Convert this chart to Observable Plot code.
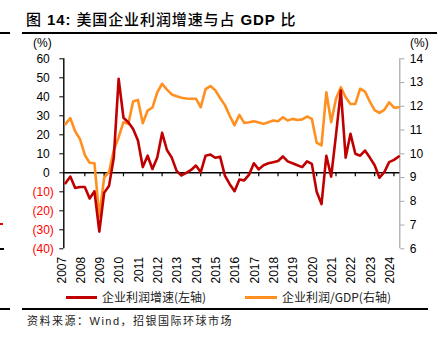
<!DOCTYPE html>
<html>
<head>
<meta charset="utf-8">
<script src="https://cdn.jsdelivr.net/npm/d3@7"></script>
<script src="https://cdn.jsdelivr.net/npm/@observablehq/plot@0.6"></script>
<style>
  html, body { margin: 0; padding: 0; background: #fff; }
  #wrap { position: relative; width: 437px; height: 339px; overflow: hidden; font-family: "Liberation Sans", Arial, "Noto Sans CJK SC", sans-serif; color: #000; }
  #wrap svg { position: absolute; left: 0; top: 0; }
  .abs { position: absolute; white-space: nowrap; }
  .rule { position: absolute; background: #000; }
  .cjk { font-family: "Noto Sans CJK SC", sans-serif; font-weight: 500; }
</style>
</head>
<body>
<div id="wrap">
  <div class="abs" style="left:26px; top:10px; font-size:15px; line-height:17px; font-weight:bold; letter-spacing:0.9px; font-family:'Liberation Sans','Noto Sans CJK SC',sans-serif;"><span class="cjk">图</span> 14: <span class="cjk">美国企业利润增速与占</span> GDP <span class="cjk">比</span></div>
  <div class="rule" style="left:0; top:32px; width:10px; height:2px;"></div>
  <div class="rule" style="left:22px; top:32px; width:415px; height:2px;"></div>
  <div class="abs" style="left:33px; top:36px; font-size:12px; line-height:14px;">(%)</div>
  <div class="abs" style="left:410px; top:36px; font-size:12px; line-height:14px;">(%)</div>
  <div class="rule" style="left:0; top:223px; width:3px; height:2px; background:#e00000;"></div>
  <div class="rule" style="left:0; top:248px; width:4px; height:1.5px;"></div>
  <div class="rule" style="left:66px; top:295.5px; width:31px; height:3px; background:#C00000;"></div>
  <div class="abs" style="left:102px; top:289px; font-size:12px; line-height:15px; color:#222; font-family:'Noto Sans CJK SC',sans-serif;">企业利润增速(左轴)</div>
  <div class="rule" style="left:245px; top:295.5px; width:32px; height:3px; background:#FF9020;"></div>
  <div class="abs" style="left:282px; top:289px; font-size:12px; line-height:15px; color:#222; font-family:'Noto Sans CJK SC',sans-serif;">企业利润/GDP(右轴)</div>
  <div class="rule" style="left:0; top:308px; width:10px; height:2px;"></div>
  <div class="rule" style="left:22px; top:308px; width:406px; height:2px;"></div>
  <div class="abs" style="left:27px; top:313px; font-size:11px; line-height:14px; letter-spacing:1.5px; color:#222; font-family:'Noto Sans CJK SC',sans-serif;">资料来源：<span style="font-family:'Liberation Sans',sans-serif;">Wind</span>，招银国际环球市场</div>
</div>
<script>
// Quarterly data, 2007Q1 – 2024Q2
const startYear = 2007;
const profitGrowth = [
  -5.5, -2, -8, -7.5, -7.5, -13.5, -9.7, -31, -10.5, -7,
  8, 49.5, 29, 26.6, 23, 17, 3, 9, 2, 8,
  21, 12, 8, 1, -1.4, 0, 1.5, 3.8, 0.3, 9,
  9.6, 7.9, 8.5, -1.5, -6, -9.7, -3.5, -4, -1, 5,
  1.8, 4, 5, 5.6, 6.2, 8.6, 6, 5, 4, 3,
  6, 4.7, -10, -16.5, 9, -2, 20, 43.3, 8, 20.5,
  10, 9, 11.7, 8, 4, -2.6, 0.3, 5.6, 6.8, 8.6
];
const profitToGDP = [
  11.25, 11.5, 10.95, 10.62, 9.95, 9.62, 9.6, 7.35, 9.0, 9.23,
  10.15, 10.7, 11.33, 11.26, 12.2, 12.27, 11.29, 11.82, 11.95, 12.59,
  12.95, 12.7, 12.5, 12.42, 12.36, 12.33, 12.32, 12.32, 11.96, 12.72,
  12.85, 12.68, 12.35, 12.05, 11.6, 11.2, 11.64, 11.3, 11.33, 11.37,
  11.32, 11.26, 11.33, 11.4, 11.37, 11.54, 11.4, 11.47, 11.42, 11.45,
  11.57, 11.47, 10.47, 10.35, 12.59, 11.33, 12.32, 12.8, 12.38, 12.1,
  12.1, 12.74, 12.62, 12.2, 11.84, 11.72, 11.85, 12.17, 11.94, 11.96
];
const yearLabels = d3.range(2007, 2025);
const leftTicks = [-40, -30, -20, -10, 0, 10, 20, 30, 40, 50, 60];
const rightTicks = [6, 7, 8, 9, 10, 11, 12, 13, 14];

// right axis [6,14] mapped onto left axis [-40,60]
const toLeft = r => -40 + (r - 6) * 12.5;
const fromLeft = v => Math.round(6 + (v + 40) / 12.5);

const data = profitGrowth.map((g, i) => ({
  t: startYear + i / 4,
  g,
  r: toLeft(profitToGDP[i])
}));

const xDomain = [2006.912, 2024.302];

const chart = Plot.plot({
  width: 437,
  height: 339,
  marginTop: 58.3,
  marginBottom: 90.7,
  marginLeft: 63.3,
  marginRight: 37.7,
  style: { fontFamily: "'Liberation Sans', Arial, sans-serif", fontSize: "12px", background: "transparent", overflow: "visible" },
  x: { domain: xDomain, axis: null },
  y: { domain: [-40, 60], axis: null },
  marks: [
    Plot.ruleX([xDomain[1]], { stroke: "#a6a6a6", strokeWidth: 1.2 }),
    Plot.axisY({ anchor: "right", ticks: rightTicks.map(toLeft), tickFormat: fromLeft, tickSize: 4, tickPadding: 6, stroke: "#a6a6a6", fill: "#000", label: null, fontSize: 12 }),
    Plot.axisY({ anchor: "left", ticks: leftTicks, tickFormat: () => "", tickSize: 4, stroke: "#000", label: null }),
    Plot.text(leftTicks.filter(d => d >= 0), { y: d => d, text: d => String(d), frameAnchor: "left", textAnchor: "end", dx: -14, fill: "#000", fontSize: 12 }),
    Plot.text(leftTicks.filter(d => d < 0), { y: d => d, text: d => `(${-d})`, frameAnchor: "left", textAnchor: "end", dx: -10, fill: "#ff0000", fontSize: 12 }),
    Plot.ruleY([0], { stroke: "#000", strokeWidth: 1.4 }),
    Plot.ruleX(yearLabels.slice(1), { x: d => d, y1: 0, y2: -2.1, stroke: "#000", strokeWidth: 1.2 }),
    Plot.ruleX([xDomain[0]], { stroke: "#000", strokeWidth: 1.4 }),
    Plot.line(data, { x: "t", y: "r", stroke: "#FF9020", strokeWidth: 2.6, curve: "linear" }),
    Plot.line(data, { x: "t", y: "g", stroke: "#C00000", strokeWidth: 2.6, curve: "linear" }),
    Plot.text(yearLabels, { x: d => d, text: d => String(d), frameAnchor: "bottom", rotate: -90, textAnchor: "end", dy: 8, fontSize: 12, fill: "#000" })
  ]
});
document.getElementById("wrap").prepend(chart);
</script>
</body>
</html>
